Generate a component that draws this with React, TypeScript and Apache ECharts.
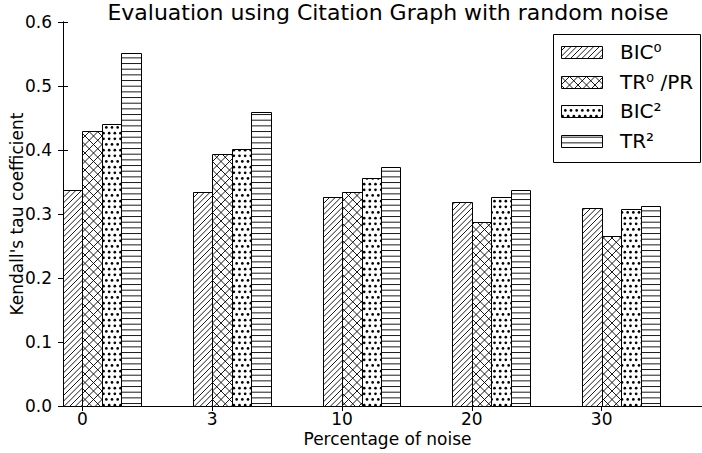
import React, { useEffect, useRef } from "react";
import * as echarts from "echarts";

const categories = ["0", "3", "10", "20", "30"];
const bic0 = [0.338, 0.334, 0.327, 0.318, 0.309];
const tr0pr = [0.429, 0.393, 0.335, 0.288, 0.265];
const bic2 = [0.44, 0.402, 0.357, 0.327, 0.308];
const tr2 = [0.551, 0.46, 0.374, 0.338, 0.313];
const seriesNames = ["BIC⁰", "TR⁰ /PR", "BIC²", "TR²"];
const hatches = ["/", "x", ".", "-"];
const yTicks = [0, 0.1, 0.2, 0.3, 0.4, 0.5, 0.6];

const BAR_W = 0.15;
const TILE = 17;

function makePattern(kind: string): any {
  const c = document.createElement("canvas");
  c.width = TILE;
  c.height = TILE;
  const ctx = c.getContext("2d")!;
  ctx.fillStyle = "#fff";
  ctx.fillRect(0, 0, TILE, TILE);
  ctx.strokeStyle = "#000";
  ctx.fillStyle = "#000";
  ctx.lineWidth = 0.9;
  if (kind === "/" || kind === "x") {
    const step = kind === "/" ? TILE / 3 : TILE / 2;
    for (let o = -2 * TILE; o <= 2 * TILE; o += step) {
      ctx.beginPath();
      ctx.moveTo(o, TILE);
      ctx.lineTo(o + TILE, 0);
      ctx.stroke();
      if (kind === "x") {
        ctx.beginPath();
        ctx.moveTo(o, 0);
        ctx.lineTo(o + TILE, TILE);
        ctx.stroke();
      }
    }
  } else if (kind === ".") {
    const step = TILE / 3;
    for (let r = -1; r <= 3; r++) {
      for (let j = -1; j <= 3; j++) {
        const x = j * step + (r % 2 !== 0 ? step / 2 : 0) + 1.5;
        const y = r * step + 2.8;
        ctx.beginPath();
        ctx.arc(x, y, 1.35, 0, Math.PI * 2);
        ctx.fill();
      }
    }
  } else if (kind === "-") {
    const step = TILE / 3;
    for (let r = 0; r < 3; r++) {
      const y = r * step + 1.2;
      ctx.beginPath();
      ctx.moveTo(0, y);
      ctx.lineTo(TILE, y);
      ctx.stroke();
    }
  }
  return { image: c, repeat: "repeat", imageWidth: TILE, imageHeight: TILE };
}

export default function App() {
  const ref = useRef<HTMLDivElement>(null);
  useEffect(() => {
    if (!ref.current) return;
    const chart = echarts.init(ref.current, null, { renderer: "svg" });
    const patterns = hatches.map(makePattern);
    const all = [bic0, tr0pr, bic2, tr2];
    const tickPos = categories.map((_, i) => i + BAR_W);
    const fmtX = (v: number) => {
      const idx = Math.round(v - BAR_W);
      return categories[idx] ?? "";
    };

    const series: any[] = all.map((vals, k) => ({
      type: "custom",
      name: seriesNames[k],
      xAxisIndex: 0,
      yAxisIndex: 0,
      clip: false,
      encode: { x: 0, y: 1 },
      data: vals.map((v, i) => [i + k * BAR_W + BAR_W / 2, v]),
      renderItem: (params: any, api: any) => {
        const x = api.value(0);
        const y = api.value(1);
        const p0 = api.coord([x - BAR_W / 2, y]);
        const p1 = api.coord([x + BAR_W / 2, 0]);
        const x0 = Math.round(p0[0]) + 0.5;
        const x1 = Math.round(p1[0]) + 0.5;
        const y0 = Math.round(p0[1]) + 0.5;
        const y1 = Math.round(p1[1]) + 0.5;
        return {
          type: "rect",
          shape: { x: x0, y: y0, width: x1 - x0, height: y1 - y0 },
          style: { fill: patterns[k], stroke: "#000", lineWidth: 1 },
        };
      },
    }));

    const font = "DejaVu Sans";
    const legendRows = [46, 76, 105, 135];
    const legendGraphics: any[] = [
      {
        type: "rect",
        shape: { x: 553.5, y: 34.5, width: 147, height: 128 },
        style: { fill: "#fff", stroke: "#000", lineWidth: 1 },
        z: 100,
      },
    ];
    seriesNames.forEach((name, k) => {
      legendGraphics.push({
        type: "rect",
        shape: { x: 561.5, y: legendRows[k] + 0.5, width: 41, height: 12 },
        style: { fill: patterns[k], stroke: "#000", lineWidth: 1 },
        z: 101,
      });
      legendGraphics.push({
        type: "text",
        x: 620,
        y: legendRows[k] + 6,
        style: {
          text: name,
          fill: "#000",
          font: `20px "${font}"`,
          fontSize: 20,
          fontFamily: font,
          align: "left",
          verticalAlign: "middle",
          textAlign: "left",
          textVerticalAlign: "middle",
        },
        z: 101,
      });
    });

    chart.setOption({
      animation: false,
      backgroundColor: "#fff",
      textStyle: { fontFamily: font, color: "#000" },
      grid: { left: 63, top: 22, bottom: 47, right: -10, containLabel: false, outerBoundsMode: "none" },
      xAxis: [
        {
          type: "value",
          min: 0,
          max: 5,
          position: "bottom",
          name: "Percentage of noise",
          nameLocation: "middle",
          nameGap: 24,
          nameMoveOverlap: false,
          nameTextStyle: { fontSize: 17, color: "#000", fontFamily: font },
          axisLine: { show: true, lineStyle: { color: "#000", width: 1 } },
          axisTick: { show: true, inside: true, length: 5, customValues: tickPos, lineStyle: { color: "#000" } },
          axisLabel: {
            show: true,
            customValues: tickPos,
            formatter: fmtX,
            fontSize: 17,
            color: "#000",
            fontFamily: font,
            margin: 4,
          },
          splitLine: { show: false },
        },
        {
          type: "value",
          min: 0,
          max: 5,
          position: "top",
          axisLine: { show: true, lineStyle: { color: "#000", width: 1 } },
          axisTick: { show: true, inside: true, length: 5, customValues: tickPos, lineStyle: { color: "#000" } },
          axisLabel: { show: false },
          splitLine: { show: false },
        },
      ],
      yAxis: [
        {
          type: "value",
          min: 0,
          max: 0.6,
          interval: 0.1,
          position: "left",
          name: "Kendall's tau coefficient",
          nameLocation: "middle",
          nameGap: 38,
          nameRotate: 90,
          nameMoveOverlap: false,
          nameTextStyle: { fontSize: 17, color: "#000", fontFamily: font },
          axisLine: { show: true, lineStyle: { color: "#000", width: 1 } },
          axisTick: { show: true, inside: true, length: 5, lineStyle: { color: "#000" } },
          axisLabel: {
            formatter: (v: number) => v.toFixed(1),
            customValues: yTicks,
            fontSize: 17,
            color: "#000",
            fontFamily: font,
            margin: 11,
          },
          splitLine: { show: false },
        },
        {
          type: "value",
          min: 0,
          max: 0.6,
          interval: 0.1,
          position: "right",
          axisLine: { show: true, lineStyle: { color: "#000", width: 1 } },
          axisTick: { show: true, inside: true, length: 5 },
          axisLabel: { show: false },
          splitLine: { show: false },
        },
      ],
      graphic: [
        {
          type: "text",
          x: 388,
          y: 1,
          style: {
            text: "Evaluation using Citation Graph with random noise",
            fill: "#000",
            font: `22px "${font}"`,
            fontSize: 22,
            fontFamily: font,
            align: "center",
            textAlign: "center",
            verticalAlign: "top",
            textVerticalAlign: "top",
          },
        },
        ...legendGraphics,
      ],
      series,
    });
    return () => chart.dispose();
  }, []);
  return <div ref={ref} style={{ width: 702, height: 453, position: "absolute", left: 0, top: 0 }} />;
}
